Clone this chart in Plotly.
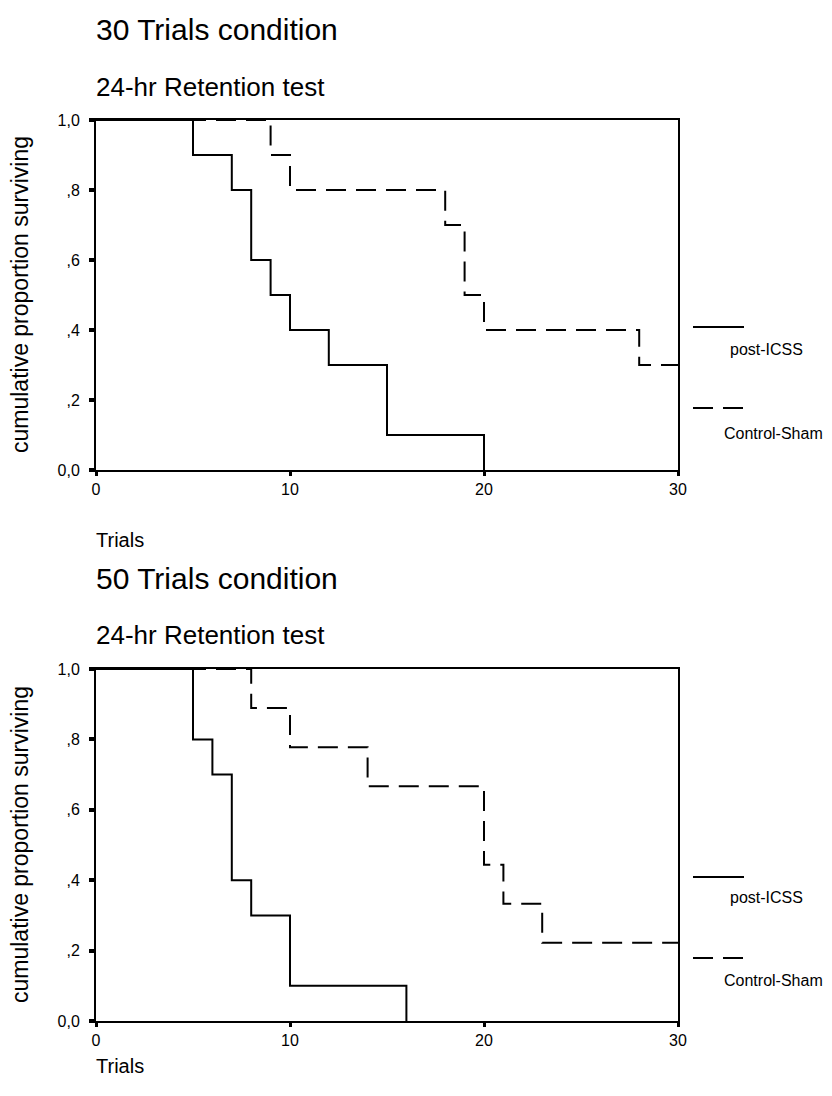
import plotly.graph_objects as go

# ---- data (Kaplan-Meier step functions) ----
top_icss_t = [0, 5, 7, 8, 9, 10, 12, 15, 20]
top_icss_s = [1.0, 0.9, 0.8, 0.6, 0.5, 0.4, 0.3, 0.1, 0.0]
top_sham_t = [0, 9, 10, 18, 19, 20, 28, 30]
top_sham_s = [1.0, 0.9, 0.8, 0.7, 0.5, 0.4, 0.3, 0.3]

bot_icss_t = [0, 5, 6, 7, 8, 10, 16]
bot_icss_s = [1.0, 0.8, 0.7, 0.4, 0.3, 0.1, 0.0]
bot_sham_t = [0, 8, 10, 14, 20, 21, 23, 30]
bot_sham_s = [1.0, 0.889, 0.778, 0.667, 0.444, 0.333, 0.222, 0.222]

y_tickvals = [0, 0.2, 0.4, 0.6, 0.8, 1.0]
y_ticktext = ["0,0", ",2", ",4", ",6", ",8", "1,0"]
x_tickvals = [0, 10, 20, 30]
x_ticktext = ["0", "10", "20", "30"]

series_names = ["post-ICSS", "Control-Sham"]
main_titles = ["30 Trials condition", "50 Trials condition"]
sub_title = "24-hr Retention test"
x_title = "Trials"
y_title = "cumulative proportion surviving"

FONT = "Liberation Sans, Arial, Helvetica, sans-serif"
W, H = 832, 1096
ML, MR, MT, MB = 96, 154, 120, 75
PW = W - ML - MR
PH = H - MT - MB


def px(x):
    return (x - ML) / PW


def py(y):
    return (H - MB - y) / PH


fig = go.Figure()

dash = "20px,10px"
line_solid = dict(color="black", width=2, shape="hv")
line_dash = dict(color="black", width=2, shape="hv", dash=dash)

fig.add_trace(go.Scatter(x=top_icss_t, y=top_icss_s, mode="lines", line=line_solid,
                         name=series_names[0], xaxis="x", yaxis="y", cliponaxis=False))
fig.add_trace(go.Scatter(x=top_sham_t, y=top_sham_s, mode="lines", line=line_dash,
                         name=series_names[1], xaxis="x", yaxis="y", cliponaxis=False))
fig.add_trace(go.Scatter(x=bot_icss_t, y=bot_icss_s, mode="lines", line=line_solid,
                         name=series_names[0], xaxis="x2", yaxis="y2", cliponaxis=False))
fig.add_trace(go.Scatter(x=bot_sham_t, y=bot_sham_s, mode="lines", line=line_dash,
                         name=series_names[1], xaxis="x2", yaxis="y2", cliponaxis=False))

top_dom = [py(470), 1.0]
bot_dom = [0.0, py(669)]

xax = dict(range=[0, 30], tickvals=x_tickvals, ticktext=x_ticktext, showgrid=False,
           zeroline=False, showline=True, linecolor="black", linewidth=2, mirror=True,
           ticks="outside", ticklen=4, tickwidth=3, tickcolor="black",
           tickfont=dict(family=FONT, size=16, color="black"), domain=[0, 1])
yax = dict(range=[0, 1], tickvals=y_tickvals, ticktext=y_ticktext, showgrid=False,
           zeroline=False, showline=True, linecolor="black", linewidth=2, mirror=True,
           ticks="outside", ticklen=5, tickwidth=4, tickcolor="black", ticklabelstandoff=6,
           tickfont=dict(family=FONT, size=16, color="black"))

fig.update_layout(
    width=W, height=H, margin=dict(l=ML, r=MR, t=MT, b=MB),
    paper_bgcolor="white", plot_bgcolor="white", showlegend=False,
    xaxis=dict(xax, anchor="y"),
    yaxis=dict(yax, domain=top_dom, anchor="x"),
    xaxis2=dict(xax, anchor="y2"),
    yaxis2=dict(yax, domain=bot_dom, anchor="x2"),
)

ann = []
shapes = []


def text(x, y, s, size, xanchor="left", angle=0):
    ann.append(dict(x=px(x), y=py(y), xref="paper", yref="paper", text=s, showarrow=False,
                    xanchor=xanchor, yanchor="middle", textangle=angle,
                    font=dict(family=FONT, size=size, color="black")))


# panel texts
for off, mt in zip([0, 548], main_titles):
    text(94, 30 + off, mt, 30)
    text(94, 87 + off, sub_title, 26)

text(94, 540, x_title, 20)
text(94, 1066, x_title, 20)
text(20, 295, y_title, 23, xanchor="center", angle=-90)
text(20, 845, y_title, 23, xanchor="center", angle=-90)

# legends
for (ys, yd, yt1, yt2) in [(327, 408, 350, 433), (877, 958, 897, 980)]:
    shapes.append(dict(type="line", xref="paper", yref="paper", x0=px(693), x1=px(744),
                       y0=py(ys), y1=py(ys), line=dict(color="black", width=2)))
    shapes.append(dict(type="line", xref="paper", yref="paper", x0=px(693), x1=px(744),
                       y0=py(yd), y1=py(yd), line=dict(color="black", width=2, dash="20px,10px")))
    text(728, yt1, series_names[0], 16)
    text(722, yt2, series_names[1], 16)

fig.update_layout(annotations=ann, shapes=shapes)
fig.write_html("out.html")
